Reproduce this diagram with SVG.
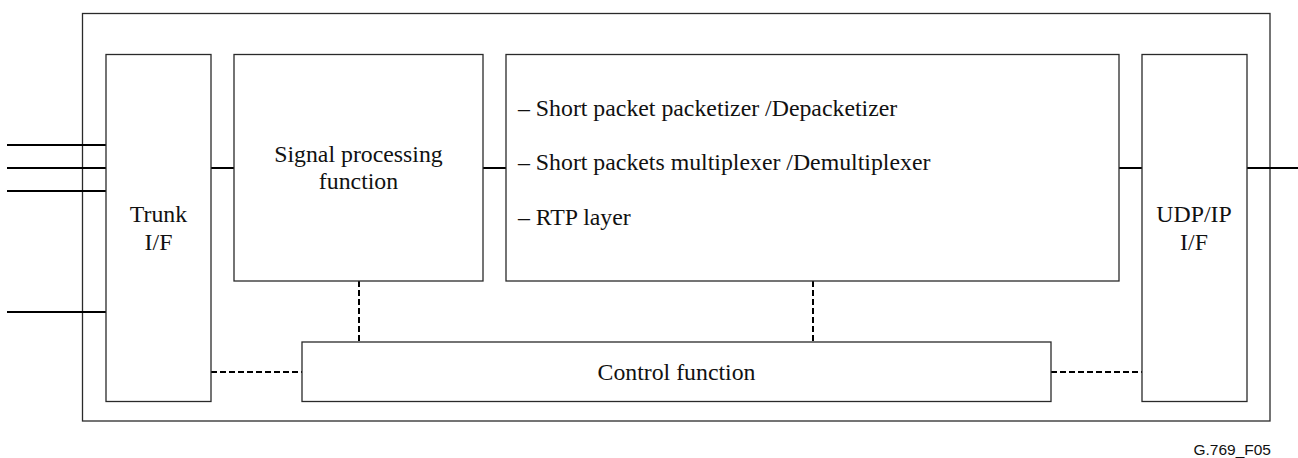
<svg xmlns="http://www.w3.org/2000/svg" width="1298" height="458" viewBox="0 0 1298 458">
<style>
.box{fill:#fff;stroke:#2a2a2a;stroke-width:1.3}
.t{font-family:"Liberation Serif","Times New Roman",serif;font-size:23.8px;fill:#111}
.c{text-anchor:middle}
.ln{stroke:#000;stroke-width:2;fill:none}
.ds{stroke:#000;stroke-width:2;fill:none;stroke-dasharray:6 3}
</style>
<rect width="1298" height="458" fill="#fff"/>
<g id="frame"><rect class="box" x="82.5" y="13.5" width="1187.5" height="407.5"/></g>
<g id="connectors">
<line class="ln" x1="7" y1="145" x2="106" y2="145"/>
<line class="ln" x1="7" y1="168" x2="106" y2="168"/>
<line class="ln" x1="7" y1="191" x2="106" y2="191"/>
<line class="ln" x1="7" y1="312" x2="106" y2="312"/>
<line class="ln" x1="211" y1="168" x2="234" y2="168"/>
<line class="ln" x1="483" y1="168" x2="506" y2="168"/>
<line class="ln" x1="1119" y1="168" x2="1142" y2="168"/>
<line class="ln" x1="1247" y1="168" x2="1298" y2="168"/>
<line class="ds" x1="211" y1="372" x2="302" y2="372"/>
<line class="ds" x1="1051" y1="372" x2="1142" y2="372"/>
<line class="ds" x1="359" y1="281" x2="359" y2="342"/>
<line class="ds" x1="813" y1="281" x2="813" y2="342"/>
</g>
<g id="trunk">
<rect class="box" x="106" y="54.5" width="105" height="347"/>
<text class="t c" x="158.5" y="222">Trunk</text>
<text class="t c" x="158.5" y="250">I/F</text>
</g>
<g id="signal">
<rect class="box" x="234" y="54.5" width="249" height="226.5"/>
<text class="t c" x="358.5" y="162">Signal processing</text>
<text class="t c" x="358.5" y="189">function</text>
</g>
<g id="packet">
<rect class="box" x="506" y="54.5" width="613" height="226.5"/>
<text class="t" x="518" y="116">– Short packet packetizer /Depacketizer</text>
<text class="t" x="518" y="170">– Short packets multiplexer /Demultiplexer</text>
<text class="t" x="518" y="225">– RTP layer</text>
</g>
<g id="udp">
<rect class="box" x="1142" y="54.5" width="105" height="347"/>
<text class="t c" x="1194" y="222">UDP/IP</text>
<text class="t c" x="1194" y="250">I/F</text>
</g>
<g id="control">
<rect class="box" x="302" y="342" width="749" height="59.5"/>
<text class="t c" x="676.5" y="380">Control function</text>
</g>
<g id="label">
<text x="1271" y="455" style="font-family:'Liberation Sans',Arial,sans-serif;font-size:15.5px;fill:#111;text-anchor:end">G.769_F05</text>
</g>
</svg>
